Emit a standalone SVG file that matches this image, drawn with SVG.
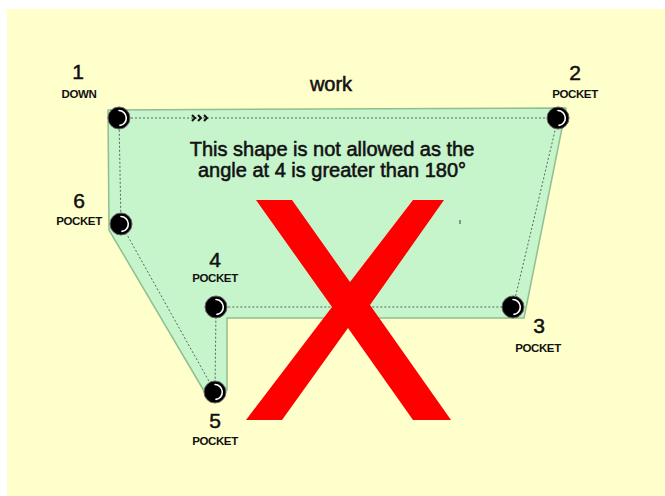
<svg xmlns="http://www.w3.org/2000/svg" width="665" height="496" viewBox="0 0 665 496">
<defs>
<style>
.num{font-family:"Liberation Sans",Arial,sans-serif;font-size:21px;fill:#111;stroke:#111;stroke-width:0.5;text-anchor:middle}
.lbl{font-family:"Liberation Sans",Arial,sans-serif;font-size:11.5px;font-weight:bold;fill:#111;text-anchor:middle;letter-spacing:-0.4px}
.msg{font-family:"Liberation Sans",Arial,sans-serif;font-size:20px;fill:#111;stroke:#111;stroke-width:0.55;text-anchor:middle}
.dot{fill:none;stroke:#5a6a5a;stroke-width:1;stroke-dasharray:2 2}
.hl{fill:none;stroke:#fff;stroke-width:1.6;stroke-linecap:round}
</style>
<g id="pin">
<circle r="11" fill="#000" stroke="#666" stroke-width="1"/>
<path class="hl" d="M0,-7.5 A7.5,7.5 0 0 1 1,7.4"/>
</g>
</defs>
<rect x="0" y="0" width="665" height="496" fill="#fff"/>
<rect x="7" y="9" width="658" height="487" fill="#ffffcc"/>
<polygon id="shape" points="108,110 566,108 524,318 227,318 227,390 207,396 109,230" fill="#c6f4cb" stroke="#8fbf90" stroke-width="1.5" stroke-linejoin="round"/>
<g id="connectors">
<path class="dot" d="M119,118 L558,118 L513,307 L216,307 L215,392 L121,224 Z"/>
<g fill="none" stroke="#111" stroke-width="2">
<polyline points="192,115 195,118 192,121"/>
<polyline points="198,115 201,118 198,121"/>
<polyline points="204,115 207,118 204,121"/>
</g>
</g>
<text class="msg" x="331" y="91" font-size="17.5">work</text>
<text class="msg" x="332" y="156">This shape is not allowed as the</text>
<text class="msg" x="332" y="177">angle at 4 is greater than 180°</text>
<g id="node1"><use href="#pin" x="119" y="118"/><text class="num" x="78" y="79">1</text><text class="lbl" x="79" y="98">DOWN</text></g>
<g id="node2"><use href="#pin" x="558" y="118"/><text class="num" x="575" y="80">2</text><text class="lbl" x="575" y="98">POCKET</text></g>
<g id="node3"><use href="#pin" x="513" y="307"/><text class="num" x="539" y="333">3</text><text class="lbl" x="538" y="352">POCKET</text></g>
<g id="node4"><use href="#pin" x="216" y="307"/><text class="num" x="215" y="267">4</text><text class="lbl" x="215" y="282">POCKET</text></g>
<g id="node5"><use href="#pin" x="215" y="392"/><text class="num" x="215" y="428">5</text><text class="lbl" x="215" y="445">POCKET</text></g>
<g id="node6"><use href="#pin" x="121" y="224"/><text class="num" x="79" y="208">6</text><text class="lbl" x="79" y="225">POCKET</text></g>
<polygon id="cross" points="256,200 292,200 350,282 413,200 444,200 370,305 451,420 413,420 348,328 282,420 246,420 332,307" fill="#ff0000"/>
<line x1="460" y1="220" x2="460" y2="224" stroke="#555" stroke-width="1.2"/>
</svg>
